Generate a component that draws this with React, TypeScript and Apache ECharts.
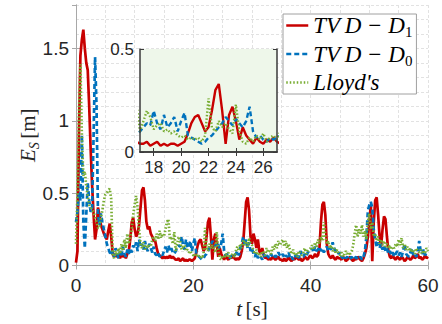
import React, { useEffect, useRef } from 'react';
import * as echarts from 'echarts';

const DT = 0.25; // sampling step [s]

const seriesNames = ['TVD-D1', 'TVD-D0', "Lloyd's"];

// TVD-D1 (red, solid)
const redValues = [
  0.02,0.1,0.9,1.45,1.56,1.63,1.5,1.4,1.35,1.1,0.8,0.55,0.35,0.18,0.25,0.4,0.35,0.28,0.25,0.22,
  0.2,0.18,0.24,0.29,0.2,0.08,0.06,0.08,0.06,0.07,0.05,0.08,0.06,0.07,0.05,0.08,0.1,0.18,0.3,0.33,
  0.25,0.2,0.22,0.28,0.4,0.52,0.54,0.45,0.3,0.25,0.27,0.22,0.2,0.17,0.17,0.12,0.08,0.07,0.06,0.05,
  0.06,0.05,0.06,0.05,0.07,0.05,0.06,0.05,0.04,0.04,0.05,0.03,0.04,0.05,0.03,0.04,0.03,0.04,0.04,0.03,
  0.04,0.05,0.09,0.14,0.17,0.18,0.14,0.1,0.12,0.2,0.3,0.33,0.2,0.04,0.18,0.22,0.15,0.06,0.12,0.08,
  0.06,0.04,0.07,0.05,0.04,0.06,0.05,0.07,0.05,0.04,0.05,0.04,0.06,0.1,0.16,0.3,0.44,0.47,0.38,0.2,
  0.15,0.22,0.18,0.12,0.18,0.1,0.08,0.12,0.07,0.05,0.06,0.04,0.05,0.04,0.06,0.05,0.04,0.05,0.06,0.04,
  0.04,0.03,0.05,0.03,0.04,0.06,0.04,0.03,0.05,0.04,0.06,0.05,0.04,0.05,0.03,0.04,0.06,0.05,0.04,0.06,
  0.07,0.05,0.06,0.08,0.06,0.07,0.12,0.3,0.42,0.44,0.35,0.15,0.08,0.06,0.05,0.07,0.05,0.04,0.06,0.05,
  0.05,0.04,0.06,0.05,0.03,0.04,0.05,0.06,0.04,0.03,0.05,0.04,0.06,0.05,0.04,0.03,0.05,0.08,0.12,0.2,
  0.3,0.42,0.03,0.3,0.45,0.47,0.35,0.2,0.13,0.25,0.34,0.32,0.2,0.1,0.06,0.05,0.07,0.05,0.04,0.06,
  0.05,0.04,0.06,0.05,0.03,0.04,0.06,0.05,0.04,0.05,0.07,0.05,0.06,0.08,0.05,0.06,0.04,0.05,0.07,0.05,
  0.06,
];

// TVD-D0 (blue, dashed)
const blueValues = [
  0.3,0.37,0.5,0.45,0.9,0.3,0.12,0.35,0.57,0.45,0.37,0.4,0.9,1.44,1.1,0.35,0.28,0.36,0.3,0.25,
  0.2,0.15,0.12,0.09,0.07,0.1,0.06,0.12,0.08,0.05,0.1,0.07,0.13,0.08,0.06,0.11,0.08,0.12,0.09,0.14,
  0.12,0.16,0.1,0.18,0.13,0.15,0.11,0.17,0.12,0.1,0.15,0.12,0.09,0.13,0.08,0.07,0.09,0.06,0.08,0.07,
  0.1,0.13,0.09,0.14,0.1,0.12,0.09,0.08,0.1,0.12,0.14,0.13,0.2,0.14,0.11,0.18,0.12,0.14,0.17,0.1,
  0.15,0.19,0.08,0.07,0.06,0.05,0.04,0.05,0.07,0.08,0.1,0.12,0.14,0.17,0.15,0.13,0.16,0.14,0.12,0.15,
  0.22,0.1,0.07,0.08,0.06,0.05,0.07,0.06,0.07,0.08,0.1,0.07,0.12,0.15,0.2,0.14,0.18,0.12,0.16,0.1,
  0.12,0.08,0.06,0.09,0.05,0.07,0.06,0.04,0.08,0.05,0.07,0.06,0.05,0.08,0.06,0.05,0.07,0.06,0.09,0.07,
  0.06,0.08,0.05,0.07,0.06,0.09,0.05,0.06,0.04,0.07,0.06,0.08,0.05,0.1,0.07,0.06,0.08,0.06,0.09,0.1,
  0.1,0.12,0.09,0.13,0.1,0.11,0.13,0.1,0.12,0.09,0.11,0.13,0.1,0.12,0.11,0.16,0.12,0.1,0.11,0.08,
  0.09,0.06,0.05,0.07,0.05,0.06,0.04,0.05,0.06,0.04,0.05,0.06,0.04,0.05,0.06,0.04,0.06,0.1,0.2,0.38,
  0.42,0.44,0.4,0.25,0.18,0.13,0.16,0.12,0.15,0.11,0.14,0.1,0.12,0.08,0.1,0.07,0.09,0.06,0.08,0.1,
  0.07,0.09,0.06,0.1,0.15,0.08,0.07,0.06,0.09,0.12,0.07,0.08,0.06,0.09,0.17,0.1,0.08,0.11,0.07,0.09,
  0.08,
];

// Lloyd's (green, dotted)
const greenValues = [
  0.15,0.5,1.05,1.39,0.9,0.62,0.65,0.55,0.48,0.42,0.4,0.38,0.37,0.33,0.3,0.26,0.26,0.33,0.38,0.45,
  0.49,0.5,0.52,0.53,0.46,0.08,0.05,0.1,0.07,0.12,0.08,0.15,0.1,0.18,0.12,0.22,0.15,0.2,0.25,0.35,
  0.42,0.48,0.4,0.25,0.15,0.12,0.16,0.11,0.14,0.12,0.15,0.13,0.18,0.2,0.17,0.22,0.18,0.24,0.19,0.22,
  0.2,0.25,0.3,0.32,0.18,0.2,0.15,0.23,0.1,0.15,0.2,0.17,0.11,0.13,0.14,0.1,0.11,0.09,0.1,0.08,
  0.07,0.08,0.06,0.07,0.06,0.07,0.05,0.08,0.26,0.12,0.1,0.15,0.12,0.14,0.11,0.09,0.23,0.1,0.05,0.04,
  0.07,0.05,0.08,0.06,0.09,0.05,0.07,0.08,0.06,0.1,0.13,0.1,0.15,0.12,0.18,0.14,0.17,0.13,0.19,0.15,
  0.14,0.1,0.08,0.11,0.07,0.09,0.06,0.1,0.08,0.07,0.12,0.09,0.1,0.08,0.13,0.11,0.15,0.12,0.17,0.14,
  0.16,0.18,0.13,0.17,0.12,0.15,0.1,0.08,0.11,0.07,0.09,0.06,0.1,0.08,0.07,0.09,0.12,0.08,0.1,0.11,
  0.12,0.14,0.11,0.16,0.13,0.18,0.15,0.2,0.17,0.3,0.2,0.15,0.17,0.12,0.14,0.1,0.12,0.09,0.11,0.08,
  0.07,0.09,0.06,0.08,0.1,0.07,0.09,0.08,0.1,0.14,0.22,0.28,0.2,0.25,0.22,0.28,0.2,0.24,0.18,0.3,
  0.36,0.25,0.3,0.2,0.22,0.17,0.2,0.15,0.18,0.14,0.17,0.13,0.15,0.12,0.14,0.11,0.13,0.12,0.15,0.13,
  0.18,0.14,0.19,0.12,0.15,0.11,0.13,0.1,0.12,0.09,0.11,0.08,0.12,0.1,0.09,0.11,0.08,0.1,0.09,0.12,
  0.1,
];

const insetXTicks = [18, 20, 22, 24, 26];
const insetYTicks = [0, 0.5];

const RED = '#C80000';
const BLUE = '#0072BD';
const GREEN = '#77AC30';

const SANS = '"Liberation Sans", Arial, Helvetica, sans-serif';
const SERIF = '"Liberation Serif", "Times New Roman", serif';

function toPairs(vals: number[]) {
  return vals.map((v, i) => [i * DT, v]);
}

export default function App() {
  const ref = useRef<HTMLDivElement>(null);

  useEffect(() => {
    if (!ref.current) return;
    const chart = echarts.init(ref.current, null, { renderer: 'svg' });

    const gridLine = { show: true, lineStyle: { color: '#e2e2e2', width: 1, type: [3, 2] as any } };
    const mainLine = { show: true, lineStyle: { color: '#a8a8a8', width: 1 } };
    const mainTick = { show: true, inside: true, length: 4, lineStyle: { color: '#a8a8a8', width: 1 } };
    const insetLine = { show: true, lineStyle: { color: '#3a3a3a', width: 1.5 } };
    const insetTick = { show: true, inside: true, length: 4, lineStyle: { color: '#3a3a3a', width: 1 } };
    const mainLabel = { fontFamily: SANS, fontSize: 19, color: '#262626' };
    const insetLabel = { fontFamily: SANS, fontSize: 17, color: '#262626' };

    const datasets = [redValues, blueValues, greenValues];
    const colors = [RED, BLUE, GREEN];
    const dashes: any[] = ['solid', [5, 3], [1.5, 2]];

    const series: any[] = [];
    [0, 1].forEach((g) => {
      datasets.forEach((vals, k) => {
        series.push({
          type: 'line',
          name: seriesNames[k],
          xAxisIndex: g === 0 ? 0 : 4,
          yAxisIndex: g === 0 ? 0 : 4,
          data: toPairs(vals),
          symbol: 'none',
          showSymbol: false,
          clip: true,
          z: g === 0 ? 1 : 4,
          lineStyle: { color: colors[k], width: g === 0 ? 2.7 : 2.4, type: dashes[k] },
          itemStyle: { color: colors[k] },
          emphasis: { disabled: true },
        });
      });
    });

    const subMap: Record<string, string> = {
      'TVD-D1': '{it|TV\u2009D \u2212 D}{sub|1}',
      'TVD-D0': '{it|TV\u2009D \u2212 D}{sub|0}',
      "Lloyd's": "{it|Lloyd's}",
    };

    chart.setOption({
      animation: false,
      backgroundColor: '#ffffff',
      grid: [
        { left: 76, right: 14, top: 5, bottom: 58, show: true, backgroundColor: '#ffffff', borderWidth: 0, z: 0 },
        { left: 140, top: 49, width: 137, height: 103, show: true, backgroundColor: '#eef7ea', borderWidth: 0, z: 3 },
      ],
      legend: {
        data: seriesNames.map((n) => ({ name: n, itemStyle: { opacity: 0 } })),
        orient: 'vertical',
        left: 283,
        top: 14,
        itemWidth: 22,
        itemHeight: 14,
        itemGap: 3,
        padding: [0, 4, 0, 2],
        backgroundColor: '#ffffff',
        borderColor: '#a0a0a0',
        borderWidth: 1,
        borderRadius: 0,
        z: 6,
        itemStyle: { opacity: 0, borderWidth: 0 },
        lineStyle: { width: 2.5 },
        formatter: (name: string) => subMap[name] || name,
        textStyle: {
          color: '#000',
          rich: {
            it: { fontFamily: SERIF, fontStyle: 'italic', fontSize: 23, lineHeight: 28, color: '#000' },
            sub: { fontFamily: SERIF, fontSize: 15, lineHeight: 13, verticalAlign: 'bottom', color: '#000' },
          },
        },
      },
      xAxis: [
        {
          gridIndex: 0, type: 'value', min: 0, max: 60, interval: 20, position: 'bottom',
          axisLine: mainLine, axisTick: mainTick, splitLine: { show: false },
          axisLabel: { ...mainLabel, margin: 10 },
          name: '{it|t} {rm|[s]}', nameLocation: 'middle', nameGap: 30, nameMoveOverlap: false,
          nameTextStyle: {
            rich: {
              it: { fontFamily: SERIF, fontStyle: 'italic', fontSize: 21, lineHeight: 26, color: '#262626' },
              rm: { fontFamily: SERIF, fontSize: 21, lineHeight: 26, color: '#262626' },
            },
          },
        },
        {
          gridIndex: 0, type: 'value', min: 0, max: 60, interval: 20, position: 'top',
          axisLine: mainLine, axisTick: mainTick, splitLine: { show: false }, axisLabel: { show: false },
        },
        {
          gridIndex: 0, type: 'value', min: 0, max: 60, interval: 5, position: 'top',
          axisLine: { show: false }, axisTick: { show: false }, axisLabel: { show: false },
          splitLine: gridLine,
        },
        {
          gridIndex: 1, type: 'value', min: 17, max: 27, position: 'top',
          axisLine: insetLine, axisTick: { ...insetTick, customValues: insetXTicks },
          axisLabel: { show: false }, splitLine: { show: false }, z: 5,
        },
        {
          gridIndex: 1, type: 'value', min: 17, max: 27, position: 'bottom',
          axisLine: insetLine, axisTick: { ...insetTick, customValues: insetXTicks },
          axisLabel: { ...insetLabel, margin: 7, customValues: insetXTicks },
          splitLine: { show: false }, z: 5,
        },
      ],
      yAxis: [
        {
          gridIndex: 0, type: 'value', min: 0, max: 1.8, interval: 0.5, position: 'left',
          axisLine: mainLine, axisTick: mainTick, splitLine: { show: false },
          axisLabel: { ...mainLabel, margin: 7, showMaxLabel: false },
          name: '{it|E}{sub|S} {rm|[m]}', nameLocation: 'middle', nameGap: 35, nameRotate: 90,
          nameMoveOverlap: false,
          nameTextStyle: {
            rich: {
              it: { fontFamily: SERIF, fontStyle: 'italic', fontSize: 21, lineHeight: 26, color: '#262626' },
              sub: { fontFamily: SERIF, fontStyle: 'italic', fontSize: 14, lineHeight: 12, verticalAlign: 'bottom', color: '#262626' },
              rm: { fontFamily: SERIF, fontSize: 21, lineHeight: 26, color: '#262626' },
            },
          },
        },
        {
          gridIndex: 0, type: 'value', min: 0, max: 1.8, interval: 0.5, position: 'right',
          axisLine: mainLine, axisTick: mainTick, splitLine: { show: false }, axisLabel: { show: false },
        },
        {
          gridIndex: 0, type: 'value', min: 0, max: 1.8, interval: 0.1, position: 'right',
          axisLine: { show: false }, axisTick: { show: false }, axisLabel: { show: false },
          splitLine: gridLine,
        },
        {
          gridIndex: 1, type: 'value', min: 0, max: 0.5, interval: 0.5, position: 'right',
          axisLine: insetLine, axisTick: insetTick, axisLabel: { show: false }, splitLine: { show: false }, z: 5,
        },
        {
          gridIndex: 1, type: 'value', min: 0, max: 0.5, interval: 0.5, position: 'left',
          axisLine: insetLine, axisTick: insetTick,
          axisLabel: { ...insetLabel, margin: 6, customValues: insetYTicks },
          splitLine: { show: false }, z: 5,
        },
      ],
      series,
    });

    return () => chart.dispose();
  }, []);

  return (
    <div
      ref={ref}
      style={{ position: 'absolute', left: 0, top: 0, width: 442, height: 324 }}
    />
  );
}
